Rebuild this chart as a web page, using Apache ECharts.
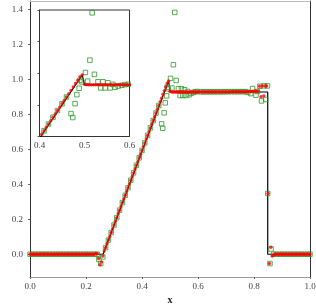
<!DOCTYPE html>
<html><head><meta charset="utf-8">
<script src="https://cdn.jsdelivr.net/npm/echarts@6/dist/echarts.min.js"></script>
<style>html,body{margin:0;padding:0;background:#fff}#c{width:316px;height:304px}</style>
</head><body><div id="c"></div>
<script>
// exact solution (black line)
const exactX = [0, 0.261, 0.495, 0.5, 0.849, 0.849, 1.0];
const exactV = [0, 0, 0.99, 0.927, 0.927, 0, 0];

// red scheme (filled dots)
const redX = [
0,0.005,0.01,0.015,0.02,0.025,0.03,0.035,0.04,0.045,
0.05,0.055,0.06,0.065,0.07,0.075,0.08,0.085,0.09,0.095,
0.1,0.105,0.11,0.115,0.12,0.125,0.13,0.135,0.14,0.145,
0.15,0.155,0.16,0.165,0.17,0.175,0.18,0.185,0.19,0.195,
0.2,0.205,0.21,0.215,0.22,0.225,0.23,0.235,0.24,0.245,
0.25,0.255,0.26,0.265,0.27,0.275,0.28,0.285,0.29,0.295,
0.3,0.305,0.31,0.315,0.32,0.325,0.33,0.335,0.34,0.345,
0.35,0.355,0.36,0.365,0.37,0.375,0.38,0.385,0.39,0.395,
0.4,0.405,0.41,0.415,0.42,0.425,0.43,0.435,0.44,0.445,
0.45,0.455,0.46,0.465,0.47,0.475,0.48,0.485,0.49,0.495,
0.5,0.505,0.51,0.515,0.52,0.525,0.53,0.535,0.54,0.545,
0.55,0.555,0.56,0.565,0.57,0.575,0.58,0.585,0.59,0.595,
0.6,0.605,0.61,0.615,0.62,0.625,0.63,0.635,0.64,0.645,
0.65,0.655,0.66,0.665,0.67,0.675,0.68,0.685,0.69,0.695,
0.7,0.705,0.71,0.715,0.72,0.725,0.73,0.735,0.74,0.745,
0.75,0.755,0.76,0.765,0.77,0.775,0.78,0.785,0.79,0.795,
0.8,0.805,0.81,0.815,0.82,0.825,0.83,0.835,0.84,0.845,
0.85,0.855,0.86,0.865,0.87,0.875,0.88,0.885,0.89,0.895,
0.9,0.905,0.91,0.915,0.92,0.925,0.93,0.935,0.94,0.945,
0.95,0.955,0.96,0.965,0.97,0.975,0.98,0.985,0.99,0.995,
1.0];
const redV = [
0,0,0,0,0,0,0,0,0,0,
0,0,0,0,0,0,0,0,0,0,
0,0,0,0,0,0,0,0,0,0,
0,0,0,0,0,0,0,0,0,0,
0,0,0,0,0,0,0,0.005,0.003,-0.025,
-0.06,-0.045,-0.01,0.018,0.038,0.060,0.081,0.102,0.124,0.145,
0.167,0.188,0.209,0.231,0.252,0.273,0.295,0.316,0.337,0.359,
0.380,0.401,0.423,0.444,0.465,0.487,0.508,0.529,0.551,0.572,
0.593,0.615,0.636,0.658,0.679,0.700,0.722,0.743,0.764,0.786,
0.807,0.828,0.850,0.871,0.892,0.914,0.935,0.956,0.978,0.99,
0.930,0.928,0.927,0.927,0.927,0.927,0.927,0.927,0.927,0.927,
0.927,0.927,0.927,0.927,0.927,0.927,0.927,0.927,0.927,0.927,
0.928,0.928,0.928,0.928,0.928,0.928,0.928,0.928,0.928,0.928,
0.928,0.928,0.928,0.928,0.928,0.928,0.928,0.928,0.928,0.928,
0.928,0.928,0.928,0.928,0.929,0.929,0.929,0.929,0.929,0.929,
0.929,0.929,0.929,0.929,0.929,0.929,0.929,0.929,0.930,0.931,
0.931,0.932,0.932,0.932,0.96,0.90,0.962,0.905,0.962,0.962,
0.347,-0.053,0.04,-0.01,-0.004,0,0,0,0,0,
0,0,0,0,0,0,0,0,0,0,
0,0,0,0,0,0,0,0,0,0,
0];

// green scheme (open squares)
const greenX = [
0,0.01,0.02,0.03,0.04,0.05,0.06,0.07,0.08,0.09,0.1,0.11,0.12,0.13,0.14,0.15,0.16,0.17,0.18,0.19,0.2,0.21,0.22,0.23,
0.24,0.246,0.2525,0.26,
0.27,0.28,0.29,0.3,0.31,0.32,0.33,0.34,0.35,0.36,0.37,0.38,0.39,0.4,0.41,0.42,0.43,0.44,0.45,0.46,0.49,
0.470,0.474,0.479,0.483,0.488,0.494,0.502,0.507,0.512,0.517,0.522,0.530,0.536,0.541,0.546,0.552,0.557,0.563,0.568,0.575,0.583,0.59,0.597,
0.61,0.62,0.63,0.64,0.65,0.66,0.67,0.68,0.69,0.7,0.71,0.72,0.73,0.74,0.75,0.76,0.77,
0.778,0.788,0.795,0.807,0.812,0.821,0.827,0.836,0.842,0.848,0.849,0.857,0.861,
0.87,0.88,0.89,0.9,0.91,0.92,0.93,0.94,0.95,0.96,0.97,0.98,0.99,1.0];
const greenV = [
0,0,0,0,0,0,0,0,0,0,0,0,0,0,0,0,0,0,0,0,0,0,0,0,
0,-0.03,-0.053,-0.015,
0.038,0.081,0.124,0.167,0.209,0.252,0.295,0.337,0.38,0.423,0.465,0.508,0.551,0.593,0.636,0.679,0.722,0.764,0.807,0.85,0.955,
0.745,0.720,0.808,0.865,0.905,0.945,1.005,0.950,1.083,1.382,0.993,0.946,0.907,0.946,0.907,0.940,0.907,0.930,0.911,0.919,0.924,0.928,0.930,
0.928,0.928,0.928,0.928,0.928,0.928,0.928,0.928,0.928,0.929,0.929,0.929,0.929,0.929,0.929,0.929,0.929,
0.925,0.918,0.947,0.909,0.93,0.96,0.876,0.962,0.884,0.962,0.347,-0.053,0.03,
0,0,0,0,0,0,0,0,0,0,0,0,0,0];

const mainYTicks = [0,0.2,0.4,0.6,0.8,1.0,1.2,1.4];
const mainXTicks = [0,0.2,0.4,0.6,0.8,1.0];
const insetXTicks = [0.4,0.5,0.6];
const insetYTicks = [0.6,0.8,1.0,1.2,1.4];

const zip = (a,b) => a.map((v,i)=>[v,b[i]]);
const exactData = zip(exactX, exactV);
const redData = zip(redX, redV);
const greenData = zip(greenX, greenV);

const FONT = 'Liberation Serif';
const lab = {fontFamily: FONT, fontSize: 9, color: '#444', formatter: v => Number(v).toFixed(1)};

function seriesFor(xi, yi, zb){
  return [
    {type:'line', xAxisIndex:xi, yAxisIndex:yi, data: exactData, symbol:'none', clip:true,
     lineStyle:{color:'#000', width:1.2}, z:zb},
    {type:'scatter', xAxisIndex:xi, yAxisIndex:yi, data: greenData, symbol:'rect', symbolSize:4.5, clip:true,
     itemStyle:{color:'rgba(0,0,0,0)', borderColor:'#2e9a2e', borderWidth:1}, z:zb+1},
    {type:'scatter', xAxisIndex:xi, yAxisIndex:yi, data: redData, symbol:'circle', symbolSize:3.4, clip:true,
     itemStyle:{color:'#ff0000'}, z:zb+2}
  ];
}

const chart = echarts.init(document.getElementById('c'), null, {renderer:'canvas'});
chart.setOption({
  animation:false,
  backgroundColor:'#fff',
  grid:[
    {left:30, top:1, width:280, height:276, show:false, containLabel:false, outerBoundsMode:'none'},
    {left:39.5, top:10, width:90, height:126.5, show:true, backgroundColor:'#fff', borderColor:'#333', borderWidth:1,
     z:1, containLabel:false, outerBoundsMode:'none'}
  ],
  xAxis:[
    {gridIndex:0, type:'value', min:0, max:1, position:'bottom',
     axisLine:{show:true, onZero:false, lineStyle:{color:'#9a9a9a', width:1}},
     axisTick:{show:true, length:2, customValues: mainXTicks, lineStyle:{color:'#666'}},
     axisLabel:Object.assign({margin:5, customValues: mainXTicks}, lab),
     splitLine:{show:false},
     name:'x', nameLocation:'middle', nameGap:17,
     nameTextStyle:{fontFamily:FONT, fontSize:10, fontWeight:'bold', color:'#222'}},
    {gridIndex:0, type:'value', min:0, max:1, position:'top',
     axisLine:{show:true, onZero:false, lineStyle:{color:'#bbb', width:1}},
     axisTick:{show:false}, axisLabel:{show:false}, splitLine:{show:false}},
    {gridIndex:1, type:'value', min:0.4, max:0.6, position:'bottom',
     axisLine:{show:true, onZero:false, lineStyle:{color:'#333', width:1}},
     axisTick:{show:false},
     axisLabel:Object.assign({margin:5, customValues: insetXTicks}, lab),
     splitLine:{show:false}}
  ],
  yAxis:[
    {gridIndex:0, type:'value', min:-0.13, max:1.447, position:'left',
     axisLine:{show:true, onZero:false, lineStyle:{color:'#333', width:1}},
     axisTick:{show:true, length:2, customValues: mainYTicks, lineStyle:{color:'#666'}},
     axisLabel:Object.assign({margin:7, customValues: mainYTicks}, lab),
     splitLine:{show:false},
     name:'Velocity', nameLocation:'middle', nameGap:25, nameRotate:90,
     nameTextStyle:{fontFamily:FONT, fontSize:10, fontWeight:'bold', color:'#222'}},
    {gridIndex:0, type:'value', min:-0.13, max:1.447, position:'right',
     axisLine:{show:true, onZero:false, lineStyle:{color:'#333', width:1}},
     axisTick:{show:false}, axisLabel:{show:false}, splitLine:{show:false}},
    {gridIndex:1, type:'value', min:0.6, max:1.4, position:'left',
     axisLine:{show:true, onZero:false, lineStyle:{color:'#333', width:1}},
     axisTick:{show:true, length:2, customValues: insetYTicks, lineStyle:{color:'#555'}},
     axisLabel:{show:false}, splitLine:{show:false}}
  ],
  series: seriesFor(0,0,2).concat(seriesFor(2,2,6))
});
</script></body></html>
